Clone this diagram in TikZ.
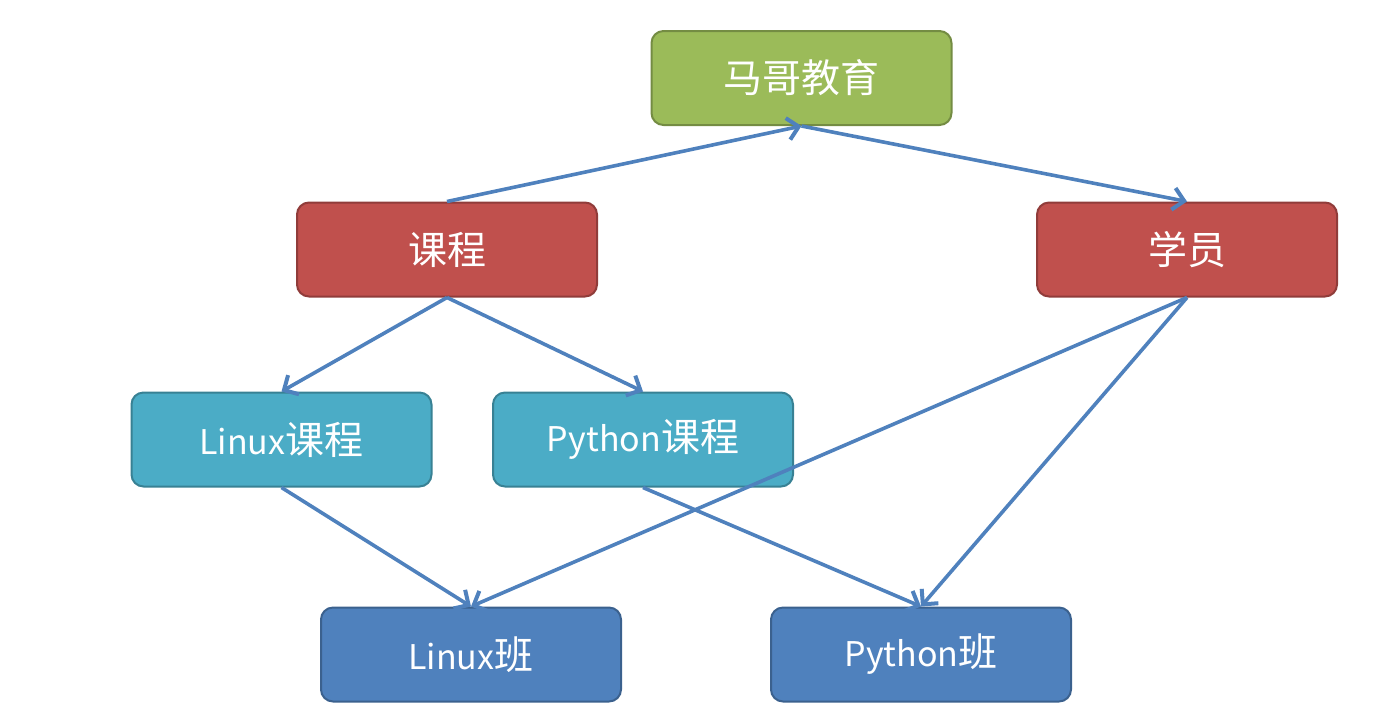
\documentclass[tikz,border=0pt]{standalone}
\usepackage{fontspec}
\setmainfont{Noto Sans CJK SC}
\usetikzlibrary{arrows.meta}

\definecolor{mggreen}{HTML}{9BBB59}
\definecolor{mgred}{HTML}{C0504D}
\definecolor{mgteal}{HTML}{4BACC6}
\definecolor{mgblue}{HTML}{4F81BD}
\definecolor{linkblue}{HTML}{4F81BD}

% Latin part of a label is set a bit smaller than the Chinese
\newcommand{\lat}[1]{{\fontsize{17}{20}\selectfont #1}}

\tikzset{
    box/.style={draw, line width=1pt, rounded corners=6pt, minimum width=150pt, minimum height=47pt,
        text=white, font=\fontsize{19.5}{22}\selectfont, inner sep=0pt},
    greenbox/.style={box, fill=mggreen, draw=mggreen!75!black},
    redbox/.style={box, fill=mgred, draw=mgred!75!black},
    tealbox/.style={box, fill=mgteal, draw=mgteal!75!black},
    bluebox/.style={box, fill=mgblue, draw=mgblue!75!black},
}

\begin{document}
\begin{tikzpicture}[x=0.5pt, y=-0.5pt, line width=1.8pt,
        every edge/.append style={draw=linkblue, -{Straight Barb[length=5.5pt, width=11pt, line width=2pt]}}]
    \useasboundingbox (0,0) rectangle (1374,725);
    	\node[greenbox] (mg) at (801.5,78) {马哥教育};
    	\node[redbox] (kc) at (447,249.5) {课程};
    	\node[redbox] (xy) at (1187,249.5) {学员};
    	\node[tealbox] (lkc) at (281.5,439.5) {\lat{Linux}课程};
    	\node[tealbox] (pkc) at (643,439.5) {\lat{Python}课程};
    	\node[bluebox] (lb) at (471,654.5) {\lat{Linux}班};
    	\node[bluebox] (pb) at (921,654.5) {\lat{Python}班};
		\draw 	(kc.north) edge (mg.south)
				(mg.south) edge (xy.north)
				(kc.south) edge (lkc.north)
				(kc.south) edge (pkc.north)
				(lkc.south) edge (lb.north)
				(pkc.south) edge (pb.north)
				(xy.south) edge (lb.north)
				(xy.south) edge (pb.north)
	;
    \end{tikzpicture}
\end{document}
